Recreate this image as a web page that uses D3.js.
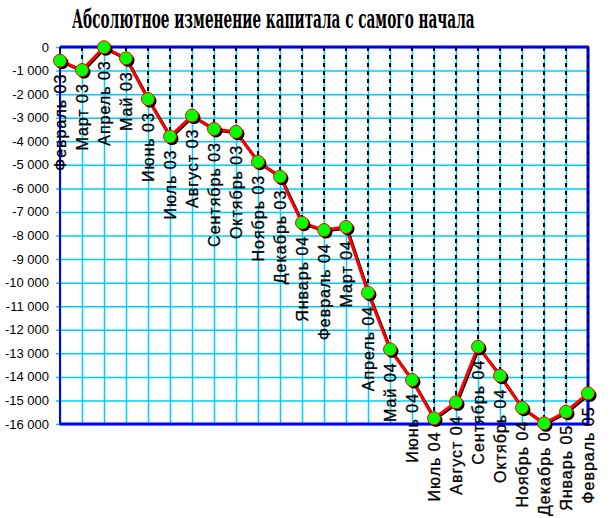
<!DOCTYPE html>
<html>
<head>
<meta charset="utf-8">
<script src="https://cdn.jsdelivr.net/npm/d3@7"></script>
<style>
html,body{margin:0;padding:0;background:#fff;}
svg{display:block;}
</style>
</head>
<body>
<div id="chart"></div>
<script>
const title = "Абсолютное изменение капитала с самого начала";
const months = ["Февраль 03","Март 03","Апрель 03","Май 03","Июнь 03","Июль 03","Август 03","Сентябрь 03","Октябрь 03","Ноябрь 03","Декабрь 03","Январь 04","Февраль 04","Март 04","Апрель 04","Май 04","Июнь 04","Июль 04","Август 04","Сентябрь 04","Октябрь 04","Ноябрь 04","Декабрь 04","Январь 05","Февраль 05"];
const values = [-580,-980,-10,-480,-2210,-3800,-2910,-3480,-3600,-4870,-5500,-7460,-7770,-7640,-10430,-12830,-14130,-15760,-15080,-12720,-13950,-15310,-15970,-15480,-14700];
const yTicks = [0,-1000,-2000,-3000,-4000,-5000,-6000,-7000,-8000,-9000,-10000,-11000,-12000,-13000,-14000,-15000,-16000];

const W = 613, H = 518;
const L = 60, R = 588, T = 47, B = 424;

const svg = d3.select("#chart").append("svg").attr("width", W).attr("height", H);

const x = d3.scalePoint().domain(months).range([L, R]).padding(0);
const y = d3.scaleLinear().domain([-16000, 0]).range([B, T]);

const fmt = v => v === 0 ? "0" : d3.format(",")(v).replace(/,/g, " ").replace("−","-");

// Title (condensed by horizontal scaling to the reference width)
const tg = svg.append("g");
const tt = tg.append("text")
  .attr("x", 0).attr("y", 0)
  .style("font-family", "'DejaVu Serif',serif")
  .style("font-weight", "bold").style("font-size", "26px")
  .attr("fill", "#000")
  .text(title);
const tlen = tt.node().getComputedTextLength();
tg.attr("transform", `translate(72,28) scale(${403 / tlen},1)`);

const grid = "#00CCFF";
// horizontal grid + ticks
const gy = svg.append("g")
  .attr("transform", `translate(${L},0)`)
  .call(d3.axisLeft(y).tickValues(yTicks).tickSize(-(R - L)).tickFormat(""));
gy.select(".domain").remove();
gy.selectAll(".tick line").attr("stroke", grid).attr("stroke-width", 1.5).attr("x1", -4).attr("x2", R - L);

// y labels
svg.append("g").selectAll("text").data(yTicks).join("text")
  .attr("x", 49).attr("y", d => y(d)).attr("dy", "0.35em")
  .attr("text-anchor", "end")
  .style("font-family", "'Liberation Sans',Arial,sans-serif").style("font-size", "13px")
  .attr("fill", "#000")
  .text(fmt);

// vertical grid
const gx = svg.append("g")
  .attr("transform", `translate(0,${B})`)
  .call(d3.axisBottom(x).tickSize(-(B - T)).tickFormat(""));
gx.select(".domain").remove();
gx.selectAll(".tick line").attr("stroke", grid).attr("stroke-width", 1.5);

// plot border / axes
svg.append("line").attr("x1", L).attr("x2", R + 1).attr("y1", y(0)).attr("y2", y(0)).attr("stroke", "#0000FF").attr("stroke-width", 3);
svg.append("line").attr("x1", L).attr("x2", R + 1).attr("y1", B).attr("y2", B).attr("stroke", "#0000FF").attr("stroke-width", 3);
svg.append("line").attr("x1", L).attr("x2", L).attr("y1", T).attr("y2", B + 1).attr("stroke", "#0000FF").attr("stroke-width", 2);
svg.append("line").attr("x1", R).attr("x2", R).attr("y1", T).attr("y2", B + 1).attr("stroke", "#0000FF").attr("stroke-width", 3);

// drop lines (to category axis at 0)
svg.append("g").selectAll("line").data(months).join("line")
  .attr("x1", d => x(d)).attr("x2", d => x(d))
  .attr("y1", y(0)).attr("y2", (d, i) => y(values[i]))
  .attr("stroke", "#000").attr("stroke-width", 2).attr("stroke-dasharray", "4,4");

// data labels (rotated, below point, kept inside the chart)
const labels = svg.append("g").selectAll("text").data(months).join("text")
  .attr("text-anchor", "end").attr("dy", "0.35em")
  .style("font-family", "'Liberation Sans',Arial,sans-serif").style("font-size", "16px")
  .style("letter-spacing", "1px")
  .attr("fill", "#000").attr("stroke", "#000").attr("stroke-width", 0.3)
  .text(d => d);
labels.each(function(d, i) {
  const len = this.getComputedTextLength();
  let top = y(values[i]) + 13;
  if (top + len > H - 2) top = H - 2 - len;
  d3.select(this).attr("transform", `translate(${x(d)},${top}) rotate(-90)`);
});

const lineGen = d3.line().x((d, i) => x(months[i])).y(d => y(d));
// shadow
svg.append("path").datum(values).attr("d", lineGen).attr("transform", "translate(1,1)")
  .attr("fill", "none").attr("stroke", "#000").attr("stroke-width", 3);
svg.append("path").datum(values).attr("d", lineGen)
  .attr("fill", "none").attr("stroke", "#FF0000").attr("stroke-width", 3);

// markers with shadow
const mk = svg.append("g");
mk.selectAll("circle.s").data(values).join("circle").attr("class", "s")
  .attr("cx", (d, i) => x(months[i]) + 2).attr("cy", d => y(d) + 2).attr("r", 6.5)
  .attr("fill", "#000");
mk.selectAll("circle.m").data(values).join("circle").attr("class", "m")
  .attr("cx", (d, i) => x(months[i])).attr("cy", d => y(d)).attr("r", 6.5)
  .attr("fill", "#00FF00").attr("stroke", "#FF0000").attr("stroke-width", 1);
</script>
</body>
</html>
